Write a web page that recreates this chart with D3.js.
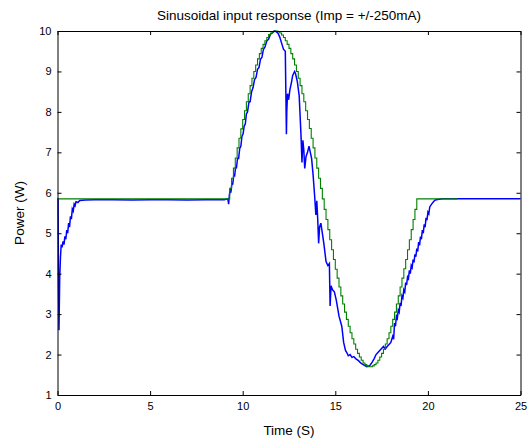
<!DOCTYPE html>
<html>
  <head>
    <meta charset="utf-8">
    <style>
      body { margin: 0; background: #fff; }
      text { font-family: "Liberation Sans", Arial, sans-serif; }
    </style>
    <title>Sinusoidal input response</title>
  </head>
  <body>
  <div id="viz-wrapper"></div>
  <script src="https://cdnjs.cloudflare.com/ajax/libs/d3/7.8.5/d3.min.js" charset="utf-8"></script>
  <script type="text/javascript">

    var blueTime = [0, 0.03, 0.05, 0.08, 0.12, 0.16, 0.2, 0.25, 0.3, 0.35, 0.4, 0.45, 0.5, 0.55, 0.6, 0.65, 0.7, 0.75, 0.8, 0.85, 0.9, 0.95, 1.0, 1.1, 1.2, 1.5, 2.0, 3.0, 4.0, 5.0, 6.0, 7.0, 8.0, 9.0,
      9.2, 9.24, 9.28, 9.32, 9.36, 9.42, 9.46, 9.52, 9.56, 9.62, 9.66, 9.72, 9.78, 9.84, 9.9, 9.96, 10.02, 10.08, 10.14, 10.2, 10.26, 10.34, 10.4, 10.48, 10.56, 10.64, 10.72, 10.8, 10.88, 10.96, 11.04, 11.12, 11.2, 11.3, 11.4, 11.5, 11.6, 11.7,
      11.75, 11.9, 12.0, 12.1, 12.2, 12.3, 12.33, 12.36, 12.38, 12.42, 12.48, 12.55, 12.62, 12.7, 12.8, 12.85, 12.95, 13.05, 13.1, 13.15, 13.2, 13.25, 13.3, 13.35, 13.42, 13.5, 13.58, 13.65, 13.72, 13.8, 13.88, 13.95, 14.0, 14.05, 14.1, 14.15, 14.22, 14.3, 14.38, 14.5, 14.6, 14.68, 14.72, 14.77, 14.85, 14.95, 15.05, 15.2, 15.35, 15.45, 15.55, 15.62, 15.7, 15.8, 15.9, 16.0, 16.1, 16.25, 16.4, 16.55, 16.7, 16.85,
      17.0, 17.1, 17.2, 17.3, 17.4, 17.5, 17.6, 17.7, 17.8, 17.9, 18.0, 18.1, 18.15,
      18.2, 18.25, 18.3, 18.35, 18.4, 18.45, 18.5, 18.55, 18.6, 18.65, 18.7, 18.75, 18.8, 18.85, 18.9, 18.95, 19.0, 19.05, 19.1, 19.15, 19.2, 19.25, 19.3, 19.35, 19.4, 19.45, 19.5, 19.55, 19.6, 19.65, 19.7, 19.75, 19.8, 19.85, 19.9, 19.95, 20.0, 20.05, 20.1,
      20.2, 20.3, 20.4, 20.6, 20.8, 22.0, 23.0, 24.0, 25.0];
    var bluePower = [5.85, 5.85, 4.0, 2.6, 3.9, 4.4, 4.72, 4.65, 4.8, 4.72, 4.92, 4.85, 5.08, 5.0, 5.25, 5.15, 5.42, 5.35, 5.6, 5.55, 5.72, 5.68, 5.78, 5.76, 5.81, 5.82, 5.83, 5.83, 5.82, 5.83, 5.83, 5.82, 5.83, 5.83,
      5.85, 5.72, 5.95, 6.05, 6.0, 6.25, 6.2, 6.45, 6.4, 6.65, 6.6, 6.85, 6.85, 7.1, 7.15, 7.4, 7.45, 7.65, 7.7, 7.95, 8.0, 8.25, 8.25, 8.5, 8.6, 8.8, 8.85, 9.05, 9.1, 9.3, 9.35, 9.55, 9.6, 9.75, 9.8, 9.92, 9.95, 10.0,
      10.0, 9.95, 9.85, 9.7, 9.55, 9.5, 8.5, 7.45, 8.0, 8.45, 8.3, 8.55, 8.7, 8.9, 9.0, 8.95, 8.75, 8.4, 7.9, 7.4, 6.75, 7.3, 7.05, 6.6, 6.9, 7.0, 7.15, 7.0, 6.85, 6.45, 5.95, 5.45, 5.8, 5.35, 4.75, 5.15, 5.25, 5.0, 4.75, 4.3, 4.2, 4.25, 3.2, 3.7, 3.6, 3.55, 3.35, 2.95, 2.7, 2.3, 2.1, 2.05, 1.97, 2.0, 1.93, 1.95, 1.9, 1.85, 1.78, 1.74, 1.7, 1.72,
      1.82, 1.9, 2.0, 2.05, 2.1, 2.15, 2.2, 2.14, 2.2, 2.25, 2.3, 2.45, 2.38,
      2.78, 2.7, 2.95, 2.9, 3.1, 3.05, 3.28, 3.2, 3.45, 3.4, 3.6, 3.55, 3.78, 3.72, 3.92, 3.88, 4.08, 4.0, 4.2, 4.15, 4.35, 4.28, 4.48, 4.42, 4.62, 4.55, 4.78, 4.7, 4.92, 4.85, 5.08, 5.0, 5.22, 5.15, 5.38, 5.32, 5.52, 5.48, 5.65,
      5.72, 5.78, 5.82, 5.84, 5.85, 5.85, 5.85, 5.85, 5.85];

    // reference power (green), stepped every 0.1 s
    var greenTime = [0, 9.2, 9.3, 9.4, 9.5, 9.6, 9.7, 9.8, 9.9, 10.0, 10.1, 10.2, 10.3, 10.4, 10.5, 10.6, 10.7, 10.8, 10.9, 11.0, 11.1, 11.2, 11.3, 11.4, 11.5, 11.6, 11.7, 11.8, 11.9,
      12.0, 12.1, 12.2, 12.3, 12.4, 12.5, 12.6, 12.7, 12.8, 12.9, 13.0, 13.1, 13.2, 13.3, 13.4, 13.5, 13.6, 13.7, 13.8, 13.9, 14.0, 14.1, 14.2, 14.3, 14.4, 14.5,
      14.6, 14.7, 14.8, 14.9, 15.0, 15.1, 15.2, 15.3, 15.4, 15.5, 15.6, 15.7, 15.8, 15.9, 16.0, 16.1, 16.2, 16.3, 16.4, 16.5, 16.6, 16.7, 16.8, 16.9, 17.0,
      17.1, 17.2, 17.3, 17.4, 17.5, 17.6, 17.7, 17.8, 17.9, 18.0, 18.1, 18.2, 18.3, 18.4, 18.5, 18.6, 18.7, 18.8, 18.9, 19.0, 19.1, 19.2, 19.3, 19.4, 21.6];
    var greenPower = [5.85, 5.85, 6.11, 6.36, 6.61, 6.86, 7.11, 7.35, 7.58, 7.81, 8.03, 8.25, 8.45, 8.65, 8.83, 9.0, 9.16, 9.31, 9.44, 9.57, 9.67, 9.76, 9.84, 9.91, 9.95, 9.98, 10.0, 10.0, 9.98,
      9.95, 9.9, 9.84, 9.76, 9.67, 9.57, 9.44, 9.31, 9.16, 9.0, 8.83, 8.65, 8.45, 8.25, 8.03, 7.81, 7.59, 7.35, 7.11, 6.86, 6.61, 6.36, 6.11, 5.85, 5.59, 5.34,
      5.09, 4.84, 4.59, 4.35, 4.11, 3.89, 3.67, 3.45, 3.25, 3.05, 2.87, 2.7, 2.54, 2.39, 2.26, 2.13, 2.03, 1.94, 1.86, 1.79, 1.75, 1.72, 1.7, 1.7, 1.72,
      1.75, 1.79, 1.86, 1.94, 2.03, 2.13, 2.26, 2.39, 2.54, 2.7, 2.87, 3.05, 3.25, 3.45, 3.67, 3.89, 4.12, 4.35, 4.59, 4.84, 5.09, 5.34, 5.59, 5.85, 5.85];

    var xTicks = [0, 5, 10, 15, 20, 25];
    var yTicks = [1, 2, 3, 4, 5, 6, 7, 8, 9, 10];

    var width = 531;
    var height = 441;
    var padL = 57.5, padR = 520.5, padT = 31, padB = 395;

    var svg = d3.select("#viz-wrapper")
                .append('svg')
                .attr('width', width)
                .attr('height', height);

    var x = d3.scaleLinear().domain([0, 25]).range([padL, padR]);
    var y = d3.scaleLinear().domain([1, 10]).range([padB, padT]);

    var line = d3.line()
                 .x(function(d) { return x(d[0]); })
                 .y(function(d) { return y(d[1]); });
    var stepLine = d3.line()
                 .curve(d3.curveStepAfter)
                 .x(function(d) { return x(d[0]); })
                 .y(function(d) { return y(d[1]); });

    var blue = d3.zip(blueTime, bluePower);
    var green = d3.zip(greenTime, greenPower);

    svg.append('path')
       .attr('d', line(blue))
       .style('fill', 'none')
       .style('stroke', '#0000ff')
       .style('stroke-width', 1.5);

    svg.append('path')
       .attr('d', stepLine(green))
       .style('fill', 'none')
       .style('stroke', '#008000')
       .style('stroke-width', 1.1);

    // box with inward ticks on all four sides
    var fmt = d3.format('d');
    svg.append('g')
       .attr('transform', 'translate(0,' + padB + ')')
       .call(d3.axisBottom(x).tickValues(xTicks).tickFormat(fmt).tickSizeInner(-4).tickSizeOuter(0).tickPadding(7));
    svg.append('g')
       .attr('transform', 'translate(0,' + padT + ')')
       .call(d3.axisTop(x).tickValues(xTicks).tickFormat('').tickSizeInner(-4).tickSizeOuter(0));
    svg.append('g')
       .attr('transform', 'translate(' + padL + ',0)')
       .call(d3.axisLeft(y).tickValues(yTicks).tickFormat(fmt).tickSizeInner(-4).tickSizeOuter(0).tickPadding(6));
    svg.append('g')
       .attr('transform', 'translate(' + padR + ',0)')
       .call(d3.axisRight(y).tickValues(yTicks).tickFormat('').tickSizeInner(-4).tickSizeOuter(0));

    svg.selectAll('.domain').style('stroke', '#000');
    svg.selectAll('.tick line').style('stroke', '#000');
    svg.selectAll('.tick text')
       .style('font-family', '"Liberation Sans", Arial, sans-serif')
       .style('font-size', '11px')
       .style('fill', '#000');

    svg.append('text')
       .attr('x', (padL + padR) / 2)
       .attr('y', 20)
       .attr('text-anchor', 'middle')
       .style('font-size', '13.5px')
       .text('Sinusoidal input response (Imp = +/-250mA)');

    svg.append('text')
       .attr('x', (padL + padR) / 2)
       .attr('y', 435)
       .attr('text-anchor', 'middle')
       .style('font-size', '13.5px')
       .text('Time (S)');

    svg.append('text')
       .attr('transform', 'translate(24,' + ((padT + padB) / 2) + ') rotate(-90)')
       .attr('text-anchor', 'middle')
       .style('font-size', '13.5px')
       .text('Power (W)');

  </script>
  </body>
</html>
